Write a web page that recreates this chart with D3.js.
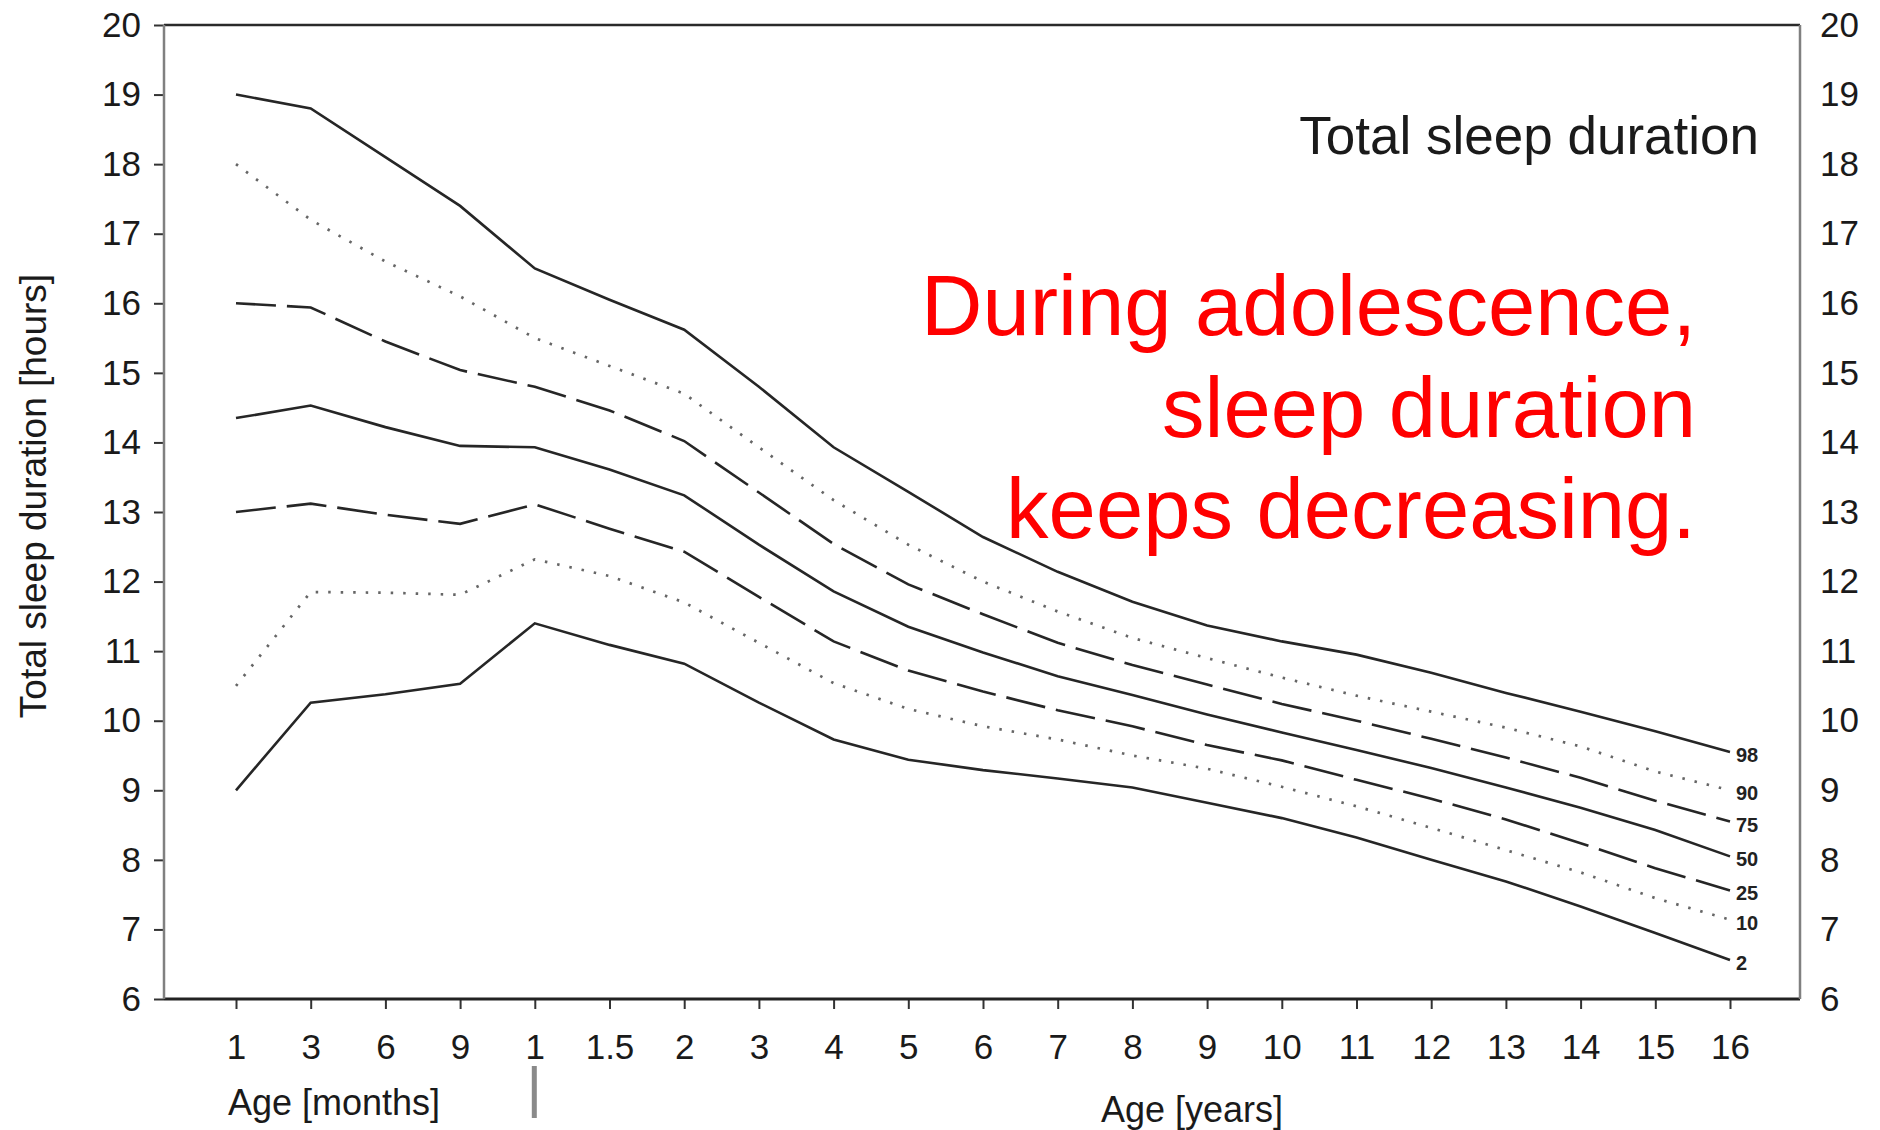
<!DOCTYPE html>
<html>
<head>
<meta charset="utf-8">
<script src="https://cdn.jsdelivr.net/npm/d3@7"></script>
<style>
  body { margin: 0; background: #fff; }
  svg { display: block; font-family: "Liberation Sans", Arial, Helvetica, sans-serif; }
</style>
</head>
<body>
<div id="chart"></div>
<script>

// age categories: months first, then years
var ageKeys = ["1m", "3m", "6m", "9m", "1y", "1.5y", "2y", "3y", "4y", "5y", "6y",
               "7y", "8y", "9y", "10y", "11y", "12y", "13y", "14y", "15y", "16y"];
var ageLabels = ["1", "3", "6", "9", "1", "1.5", "2", "3", "4", "5", "6",
                 "7", "8", "9", "10", "11", "12", "13", "14", "15", "16"];
var hourTicks = [6, 7, 8, 9, 10, 11, 12, 13, 14, 15, 16, 17, 18, 19, 20];

var percentiles = ["98", "90", "75", "50", "25", "10", "2"];

var p98 = [19.0, 18.8, 18.1, 17.4, 16.5, 16.05, 15.62, 14.8, 13.93, 13.29, 12.64,
           12.14, 11.71, 11.37, 11.14, 10.95, 10.69, 10.40, 10.13, 9.85, 9.55];
var p90 = [18.0, 17.2, 16.6, 16.1, 15.5, 15.1, 14.7, 13.93, 13.17, 12.53, 12.0,
           11.57, 11.19, 10.9, 10.62, 10.36, 10.13, 9.9, 9.63, 9.27, 9.0];
var p75 = [16.0, 15.94, 15.45, 15.04, 14.8, 14.46, 14.02, 13.28, 12.54, 11.96, 11.53,
           11.12, 10.8, 10.52, 10.24, 10.0, 9.74, 9.47, 9.18, 8.85, 8.55];
var p50 = [14.35, 14.53, 14.22, 13.95, 13.93, 13.61, 13.24, 12.53, 11.86, 11.35, 10.98,
           10.64, 10.37, 10.09, 9.83, 9.58, 9.32, 9.04, 8.75, 8.43, 8.05];
var p25 = [13.0, 13.12, 12.96, 12.83, 13.11, 12.76, 12.43, 11.78, 11.14, 10.72, 10.42,
           10.15, 9.92, 9.65, 9.43, 9.15, 8.88, 8.58, 8.24, 7.88, 7.56];
var p10 = [10.5, 11.85, 11.84, 11.81, 12.32, 12.08, 11.7, 11.12, 10.54, 10.17, 9.92,
           9.73, 9.5, 9.31, 9.05, 8.77, 8.46, 8.14, 7.82, 7.45, 7.14];
var p2  = [9.0, 10.26, 10.38, 10.53, 11.4, 11.09, 10.82, 10.26, 9.73, 9.44, 9.29,
           9.17, 9.04, 8.82, 8.6, 8.32, 8.0, 7.69, 7.33, 6.95, 6.56];

var chartTitle = "Total sleep duration";
var noteLines = ["During adolescence,", "sleep duration", "keeps decreasing."];

function drawChart() {

    var width = 1880,
        height = 1130,
        plotLeft = 164,
        plotRight = 1800,
        plotTop = 25,
        plotBottom = 999,
        svg,
        x,
        y,
        series,
        line,
        dashFor;

    series = [p98, p90, p75, p50, p25, p10, p2].map(function (vals, i) {
        return { name: percentiles[i], values: vals };
    });

    // solid / dotted / dashed pattern per curve
    dashFor = {
        "98": null, "90": "2.5,10", "75": "40,11", "50": null,
        "25": "40,11", "10": "2.5,10", "2": null
    };

    svg = d3.select("#chart").append("svg")
        .attr("width", width)
        .attr("height", height);

    x = d3.scalePoint()
        .domain(ageKeys)
        .range([236, 1730]);

    y = d3.scaleLinear()
        .domain([6, 20])
        .range([plotBottom, plotTop]);

    // left axis
    svg.append("g")
        .attr("class", "axis-left")
        .attr("transform", "translate(" + plotLeft + ",0)")
        .call(d3.axisLeft(y).tickValues(hourTicks).tickSize(10).tickPadding(13))
        .call(function (g) { g.select(".domain").remove(); });

    // right axis, labels only
    svg.append("g")
        .attr("class", "axis-right")
        .attr("transform", "translate(" + plotRight + ",0)")
        .call(d3.axisRight(y).tickValues(hourTicks).tickSize(0).tickPadding(20))
        .call(function (g) { g.select(".domain").remove(); });

    // bottom axis
    svg.append("g")
        .attr("class", "axis-bottom")
        .attr("transform", "translate(0," + plotBottom + ")")
        .call(d3.axisBottom(x).tickSize(10).tickPadding(25)
            .tickFormat(function (d, i) { return ageLabels[i]; }))
        .call(function (g) { g.select(".domain").remove(); });

    svg.selectAll(".tick text")
        .attr("font-size", 35)
        .attr("font-family", "'Liberation Sans', Arial, sans-serif")
        .attr("fill", "#1a1a1a");

    svg.selectAll(".tick line")
        .attr("stroke", "#333")
        .attr("stroke-width", 2);

    // frame
    svg.append("line")
        .attr("x1", plotLeft).attr("x2", plotRight)
        .attr("y1", plotTop).attr("y2", plotTop)
        .attr("stroke", "#2a2a2a").attr("stroke-width", 2.5);
    svg.append("line")
        .attr("x1", plotLeft).attr("x2", plotRight)
        .attr("y1", plotBottom).attr("y2", plotBottom)
        .attr("stroke", "#222").attr("stroke-width", 3);
    svg.append("line")
        .attr("x1", plotLeft).attr("x2", plotLeft)
        .attr("y1", plotTop).attr("y2", plotBottom)
        .attr("stroke", "#808080").attr("stroke-width", 2.5);
    svg.append("line")
        .attr("x1", plotRight).attr("x2", plotRight)
        .attr("y1", plotTop).attr("y2", plotBottom)
        .attr("stroke", "#808080").attr("stroke-width", 2.5);

    // separator between months and years
    svg.append("rect")
        .attr("x", x("1y") - 3)
        .attr("y", 1066)
        .attr("width", 5)
        .attr("height", 52)
        .attr("fill", "#8a8a8a");

    // axis titles
    svg.append("text")
        .attr("x", 228)
        .attr("y", 1115)
        .attr("font-size", 36)
        .attr("fill", "#1a1a1a")
        .text("Age [months]");

    svg.append("text")
        .attr("x", 1101)
        .attr("y", 1122)
        .attr("font-size", 36)
        .attr("fill", "#1a1a1a")
        .text("Age [years]");

    svg.append("text")
        .attr("transform", "translate(46,496) rotate(-90)")
        .attr("text-anchor", "middle")
        .attr("font-size", 37)
        .attr("fill", "#1a1a1a")
        .text("Total sleep duration [hours]");

    // curves
    line = d3.line()
        .x(function (d, i) { return x(ageKeys[i]); })
        .y(function (d) { return y(d); });

    svg.append("g")
        .attr("class", "curves")
        .selectAll("path")
        .data(series)
        .enter()
        .append("path")
        .attr("d", function (d) { return line(d.values); })
        .attr("fill", "none")
        .attr("stroke", function (d) { return dashFor[d.name] === "2.5,10" ? "#666" : "#262626"; })
        .attr("stroke-width", function (d) { return dashFor[d.name] === "2.5,10" ? 2.7 : 2.6; })
        .attr("stroke-dasharray", function (d) { return dashFor[d.name]; });

    // percentile labels at the line ends
    svg.append("g")
        .attr("class", "curve-labels")
        .selectAll("text")
        .data(series)
        .enter()
        .append("text")
        .attr("x", x(ageKeys[ageKeys.length - 1]) + 6)
        .attr("y", function (d) { return y(d.values[d.values.length - 1]) + 3; })
        .attr("dy", "0.35em")
        .attr("font-size", 20)
        .attr("font-weight", "bold")
        .attr("fill", "#222")
        .text(function (d) { return d.name; });

    // title
    svg.append("text")
        .attr("x", 1759)
        .attr("y", 154)
        .attr("text-anchor", "end")
        .attr("font-size", 53)
        .attr("fill", "#1a1a1a")
        .text(chartTitle);

    // red annotation
    svg.append("g")
        .attr("class", "note")
        .selectAll("text")
        .data(noteLines)
        .enter()
        .append("text")
        .attr("x", 1696)
        .attr("y", function (d, i) { return 335 + i * 101.5; })
        .attr("text-anchor", "end")
        .attr("font-size", 85)
        .attr("fill", "#ff0000")
        .text(function (d) { return d; });
}

drawChart();

</script>
</body>
</html>
